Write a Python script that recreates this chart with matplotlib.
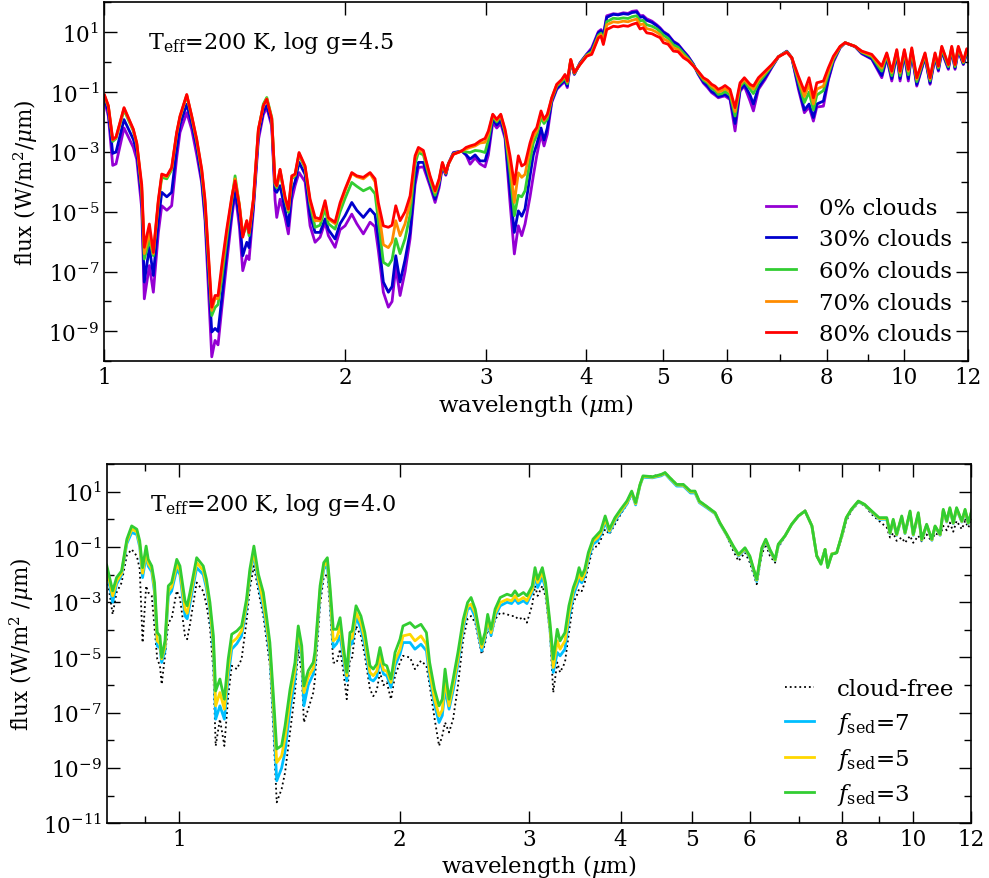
import numpy as np
import matplotlib
matplotlib.use("Agg")
import matplotlib.pyplot as plt
from matplotlib.ticker import FixedLocator, FuncFormatter, NullFormatter

plt.rcParams['font.family'] = ['DejaVu Serif']
plt.rcParams['mathtext.fontset'] = 'dejavuserif'
plt.rcParams['font.size'] = 15

# ---- top panel: partly cloudy models, Teff=200 K, log g=4.5 (log10 flux) ----
wl_top = [1.0014, 1.0124, 1.0253, 1.0351, 1.0592, 1.0879, 1.0987, 1.1146, 1.1228, 1.1393,
          1.1524, 1.1691, 1.1806, 1.1979, 1.2147, 1.2324, 1.2442, 1.2686, 1.2870, 1.3056,
          1.3246, 1.3372, 1.3633, 1.3763, 1.3882, 1.4031, 1.4234, 1.4441, 1.4579, 1.4760,
          1.4905, 1.5078, 1.5178, 1.5367, 1.5590, 1.5815, 1.5971, 1.6202, 1.6356, 1.6436,
          1.6593, 1.6834, 1.6994, 1.7161, 1.7325, 1.7525, 1.7831, 1.8090, 1.8352, 1.8618,
          1.8888, 1.9068, 1.9439, 1.9721, 2.0007, 2.0396, 2.0692, 2.1086, 2.1497, 2.1809,
          2.2017, 2.2336, 2.2660, 2.2903, 2.3148, 2.3436, 2.3776, 2.4121, 2.4471, 2.4704,
          2.5062, 2.5550, 2.5920, 2.6220, 2.6471, 2.6731, 2.6931, 2.7322, 2.7991, 2.8339,
          2.8668, 2.9083, 2.9500, 2.9928, 3.0213, 3.0597, 3.0951, 3.1310, 3.1699, 3.2159,
          3.2559, 3.2936, 3.3259, 3.3576, 3.4062, 3.4387, 3.4725, 3.5157, 3.5462, 3.5800,
          3.6256, 3.6781, 3.7314, 3.7670, 3.7919, 3.8293, 3.8692, 3.9332, 4.0096, 4.0678,
          4.1458, 4.1783, 4.2061, 4.2475, 4.3290, 4.3878, 4.4553, 4.5161, 4.5684, 4.6298,
          4.675, 4.715, 4.765, 4.838, 4.904, 4.951, 5.0, 5.067, 5.145, 5.215,
          5.296, 5.368, 5.451, 5.524, 5.609, 5.677, 5.744, 5.80, 5.855, 5.918,
          5.970, 6.056, 6.144, 6.233, 6.311, 6.415, 6.477, 6.571, 6.698, 6.829,
          6.960, 7.130, 7.233, 7.372, 7.500, 7.602, 7.697, 7.773, 7.922, 8.036,
          8.153, 8.312, 8.432, 8.678, 8.847, 9.105, 9.371, 9.506, 9.644, 9.784,
          9.877, 10.0, 10.115, 10.215, 10.363, 10.612, 10.767, 10.923, 11.028, 11.136,
          11.349, 11.46, 11.569, 11.679, 11.849, 11.966, 12.05]

clouds_0 = [-1.3, -1.8, -3.45, -3.4, -2.2, -2.85, -3.25, -4.9, -7.91, -6.8,
            -7.69, -5.7, -4.8, -4.95, -4.8, -3.2, -2.35, -1.69, -2.25, -3.1,
            -4.05, -5.3, -9.85, -9.3, -9.45, -8.24, -6.69, -5.2, -4.35, -5.5,
            -6.97, -6.47, -6.6, -4.95, -2.6, -1.75, -1.52, -2.15, -4.6, -5.19,
            -4.58, -5.2, -5.74, -4.6, -4.13, -3.69, -4.0, -5.47, -6.02, -5.85,
            -5.35, -5.8, -6.19, -5.6, -5.47, -5.08, -5.4, -5.74, -5.35, -5.5,
            -6.3, -7.69, -8.19, -8.0, -6.85, -7.8, -7.0, -5.9, -4.1, -3.52,
            -3.5, -4.15, -4.69, -4.2, -3.5, -3.78, -3.4, -3.02, -2.97, -3.1,
            -3.41, -3.2, -3.4, -3.5, -3.1, -2.02, -2.2, -2.05, -2.55, -4.7,
            -6.41, -5.47, -5.8, -5.41, -4.5, -3.8, -3.13, -2.4, -2.8, -2.4,
            -1.35, -0.91, -0.74, -0.65, -0.85, 0.03, -0.41, -0.02, 0.27, 0.48,
            1.02, 1.09, 0.92, 1.55, 1.62, 1.6, 1.65, 1.63, 1.7, 1.72,
            1.55, 1.56, 1.45, 1.37, 1.25, 1.15, 1.02, 0.92, 0.7, 0.6,
            0.38, 0.2, -0.07, -0.4, -0.7, -0.85, -1.02, -1.1, -1.19, -1.15,
            -1.13, -1.25, -2.3, -0.97, -0.8, -1.3, -1.63, -0.91, -0.58, -0.18,
            0.18, 0.37, 0.15, -0.9, -1.69, -1.5, -1.97, -1.5, -1.47, -0.6,
            0.0, 0.48, 0.65, 0.52, 0.28, 0.1, -0.52, 0.15, -0.63, 0.25,
            -0.63, 0.25, -0.63, 0.3, -0.8, 0.15, -0.74, 0.15, -0.3, 0.35,
            -0.24, 0.38, -0.24, 0.38, -0.08, 0.3, 0.2]

clouds_30 = [-1.2, -1.65, -3.05, -3.0, -1.92, -2.58, -3.0, -4.6, -7.35, -6.19,
             -7.13, -5.3, -4.35, -4.5, -4.35, -2.9, -2.1, -1.41, -2.05, -2.85,
             -3.95, -5.1, -9.02, -8.9, -9.0, -7.91, -6.35, -5.0, -4.3, -5.2,
             -6.47, -6.02, -6.2, -4.8, -2.45, -1.65, -1.45, -2.05, -4.3, -4.35,
             -4.13, -4.95, -5.47, -4.3, -4.0, -3.35, -3.75, -5.1, -5.69, -5.69,
             -5.24, -5.6, -5.91, -5.4, -5.13, -4.69, -4.95, -5.19, -4.91, -5.1,
             -5.9, -7.35, -7.69, -7.5, -6.47, -7.35, -6.6, -5.69, -3.9, -3.35,
             -3.35, -4.05, -4.58, -4.1, -3.45, -3.75, -3.4, -3.04, -2.97, -3.1,
             -3.24, -3.1, -3.3, -3.3, -2.9, -1.9, -2.1, -1.95, -2.45, -4.3,
             -5.69, -4.97, -5.15, -4.9, -3.8, -3.1, -2.75, -2.2, -2.6, -2.2,
             -1.3, -0.88, -0.7, -0.6, -0.8, 0.05, -0.4, -0.03, 0.26, 0.42,
             0.98, 1.05, 0.85, 1.5, 1.6, 1.58, 1.62, 1.6, 1.66, 1.68,
             1.5, 1.52, 1.4, 1.33, 1.22, 1.12, 1.0, 0.9, 0.68, 0.58,
             0.36, 0.18, -0.08, -0.38, -0.66, -0.8, -0.98, -1.05, -1.15, -1.12,
             -1.08, -1.2, -2.05, -0.92, -0.75, -1.1, -1.4, -0.85, -0.52, -0.16,
             0.18, 0.36, 0.15, -0.8, -1.6, -1.4, -1.85, -1.4, -1.3, -0.55,
             0.05, 0.49, 0.65, 0.52, 0.3, 0.12, -0.45, 0.18, -0.55, 0.28,
             -0.55, 0.28, -0.55, 0.33, -0.75, 0.18, -0.7, 0.18, -0.26, 0.38,
             -0.2, 0.41, -0.2, 0.41, -0.06, 0.33, 0.22]

clouds_60 = [-1.15, -1.5, -2.65, -2.55, -1.6, -2.3, -2.75, -4.3, -6.58, -5.95,
             -6.47, -4.7, -3.85, -3.9, -3.6, -2.4, -1.85, -1.12, -1.85, -2.65,
             -3.7, -4.8, -8.47, -8.2, -8.1, -7.24, -5.9, -4.6, -3.8, -4.8,
             -5.8, -5.4, -5.8, -4.65, -2.3, -1.4, -1.18, -1.85, -4.1, -4.2,
             -3.65, -4.6, -5.02, -3.9, -3.8, -3.1, -3.55, -4.75, -5.52, -5.45,
             -4.9, -5.4, -5.58, -5.0, -4.55, -4.02, -4.15, -4.3, -4.19, -4.4,
             -5.3, -6.69, -6.8, -6.6, -5.9, -6.4, -5.9, -5.1, -3.4, -3.02,
             -3.1, -3.95, -4.45, -4.0, -3.4, -3.72, -3.4, -3.06, -2.97, -3.0,
             -3.02, -2.95, -2.97, -3.02, -2.6, -1.8, -2.0, -1.8, -2.35, -3.7,
             -5.13, -4.45, -4.5, -4.3, -3.3, -2.7, -2.45, -1.85, -2.05, -1.9,
             -1.25, -0.8, -0.65, -0.52, -0.72, 0.07, -0.38, -0.05, 0.24, 0.35,
             0.9, 0.97, 0.72, 1.35, 1.47, 1.45, 1.48, 1.46, 1.52, 1.55,
             1.38, 1.4, 1.25, 1.2, 1.12, 1.02, 0.9, 0.8, 0.58, 0.5,
             0.3, 0.13, -0.1, -0.35, -0.6, -0.7, -0.88, -0.95, -1.08, -1.05,
             -0.98, -1.1, -1.8, -0.82, -0.65, -0.9, -1.05, -0.7, -0.42, -0.13,
             0.18, 0.35, 0.15, -0.65, -1.35, -1.0, -1.6, -1.1, -0.95, -0.4,
             0.1, 0.5, 0.65, 0.53, 0.33, 0.18, -0.3, 0.23, -0.45, 0.34,
             -0.45, 0.34, -0.42, 0.39, -0.65, 0.23, -0.62, 0.23, -0.2, 0.44,
             -0.15, 0.46, -0.15, 0.46, -0.02, 0.38, 0.26]

clouds_70 = [-1.12, -1.47, -2.6, -2.52, -1.54, -2.26, -2.72, -4.2, -6.4, -5.7,
             -6.4, -4.65, -3.78, -3.83, -3.55, -2.38, -1.83, -1.1, -1.82, -2.6,
             -3.62, -4.7, -8.3, -7.9, -7.9, -6.95, -5.7, -4.55, -3.9, -4.75,
             -5.75, -5.3, -5.7, -4.6, -2.25, -1.45, -1.22, -1.88, -4.05, -4.15,
             -3.6, -4.55, -4.95, -3.85, -3.77, -3.05, -3.5, -4.65, -5.3, -5.3,
             -4.7, -5.25, -5.4, -4.8, -4.3, -3.72, -3.83, -3.9, -3.72, -4.0,
             -4.9, -6.1, -6.2, -6.0, -5.3, -5.8, -5.4, -4.7, -3.2, -2.95,
             -3.0, -3.85, -4.35, -3.95, -3.38, -3.7, -3.4, -3.08, -2.97, -2.9,
             -2.85, -2.8, -2.7, -2.68, -2.4, -1.76, -1.95, -1.76, -2.3, -3.4,
             -4.69, -3.7, -3.85, -3.75, -2.9, -2.5, -2.3, -1.7, -1.95, -1.8,
             -1.2, -0.76, -0.6, -0.45, -0.66, 0.09, -0.36, -0.07, 0.22, 0.3,
             0.85, 0.92, 0.65, 1.25, 1.35, 1.33, 1.37, 1.35, 1.4, 1.44,
             1.25, 1.28, 1.12, 1.08, 1.0, 0.92, 0.78, 0.7, 0.48, 0.42,
             0.22, 0.09, -0.12, -0.32, -0.55, -0.65, -0.8, -0.88, -1.0, -0.95,
             -0.88, -1.0, -1.65, -0.75, -0.58, -0.8, -0.9, -0.6, -0.35, -0.1,
             0.18, 0.34, 0.15, -0.55, -1.15, -0.75, -1.4, -0.9, -0.8, -0.3,
             0.15, 0.52, 0.65, 0.53, 0.35, 0.22, -0.2, 0.28, -0.35, 0.39,
             -0.35, 0.39, -0.3, 0.44, -0.57, 0.28, -0.56, 0.28, -0.15, 0.5,
             -0.1, 0.5, -0.1, 0.5, 0.01, 0.42, 0.3]

clouds_80 = [-1.1, -1.45, -2.58, -2.5, -1.52, -2.24, -2.7, -4.1, -6.19, -5.41,
             -6.36, -4.6, -3.74, -3.8, -3.52, -2.35, -1.8, -1.08, -1.8, -2.58,
             -3.58, -4.6, -8.19, -7.8, -7.8, -6.8, -5.58, -4.5, -3.97, -4.8,
             -5.85, -5.3, -5.7, -4.58, -2.24, -1.45, -1.24, -1.9, -4.02, -4.13,
             -3.58, -4.5, -4.91, -3.8, -3.74, -3.02, -3.47, -4.58, -5.19, -5.24,
             -4.63, -5.2, -5.35, -4.7, -4.24, -3.69, -3.8, -3.85, -3.69, -3.9,
             -4.7, -5.47, -5.52, -5.45, -4.8, -5.3, -5.0, -4.47, -3.13, -2.85,
             -2.95, -3.8, -4.3, -3.9, -3.35, -3.69, -3.4, -3.08, -2.97, -2.85,
             -2.8, -2.75, -2.63, -2.55, -2.3, -1.74, -1.91, -1.74, -2.24, -3.13,
             -4.08, -3.13, -3.47, -3.4, -2.7, -2.35, -2.19, -1.63, -1.91, -1.74,
             -1.19, -0.74, -0.58, -0.41, -0.63, 0.09, -0.35, -0.08, 0.2, 0.26,
             0.81, 0.87, 0.59, 1.09, 1.2, 1.18, 1.22, 1.2, 1.26, 1.31,
             1.11, 1.15, 0.98, 0.95, 0.87, 0.82, 0.65, 0.6, 0.37, 0.35,
             0.15, 0.05, -0.13, -0.3, -0.52, -0.6, -0.74, -0.8, -0.91, -0.85,
             -0.78, -0.91, -1.52, -0.69, -0.52, -0.74, -0.8, -0.52, -0.3, -0.08,
             0.18, 0.33, 0.15, -0.47, -0.97, -0.52, -1.19, -0.69, -0.63, -0.19,
             0.2, 0.53, 0.65, 0.53, 0.37, 0.26, -0.13, 0.31, -0.3, 0.42,
             -0.3, 0.42, -0.24, 0.48, -0.52, 0.31, -0.52, 0.31, -0.13, 0.53,
             -0.08, 0.53, -0.08, 0.53, 0.03, 0.45, 0.33]

# ---- bottom panel: fsed models, Teff=200 K, log g=4.0 (log10 flux) ----
wl_bot = [0.797, 0.812, 0.822, 0.835, 0.849, 0.862, 0.876, 0.884, 0.892, 0.902,
          0.908, 0.918, 0.926, 0.934, 0.942, 0.947, 0.957, 0.967, 0.977, 0.993,
          1.003, 1.019, 1.026, 1.035, 1.057, 1.079, 1.090, 1.102, 1.114, 1.122,
          1.137, 1.153, 1.167, 1.180, 1.199, 1.217, 1.236, 1.249, 1.265, 1.283,
          1.303, 1.316, 1.330, 1.344, 1.359, 1.380, 1.395, 1.417, 1.439, 1.454,
          1.470, 1.480, 1.500, 1.524, 1.532, 1.557, 1.575, 1.593, 1.606, 1.623,
          1.640, 1.658, 1.675, 1.693, 1.710, 1.722, 1.743, 1.770, 1.792, 1.821,
          1.840, 1.860, 1.879, 1.900, 1.920, 1.945, 1.970, 2.001, 2.020, 2.065,
          2.097, 2.137, 2.174, 2.196, 2.230, 2.262, 2.285, 2.305, 2.334, 2.364,
          2.400, 2.440, 2.474, 2.501, 2.534, 2.586, 2.613, 2.635, 2.663, 2.697,
          2.741, 2.800, 2.840, 2.871, 2.900, 2.948, 2.980, 3.030, 3.057, 3.082,
          3.128, 3.160, 3.204, 3.237, 3.278, 3.307, 3.358, 3.400, 3.447, 3.480,
          3.510, 3.540, 3.573, 3.614, 3.667, 3.720, 3.756, 3.810, 3.860, 3.929,
          4.000, 4.079, 4.141, 4.192, 4.250, 4.290, 4.420, 4.540, 4.598, 4.670,
          4.769, 4.870, 4.980, 5.051, 5.120, 5.232, 5.380, 5.460, 5.580, 5.697,
          5.790, 5.909, 6.000, 6.130, 6.230, 6.307, 6.390, 6.494, 6.560, 6.700,
          6.842, 6.987, 7.135, 7.290, 7.402, 7.500, 7.597, 7.660, 7.760, 7.880,
          8.000, 8.120, 8.250, 8.433, 8.600, 8.795, 9.000, 9.220, 9.316, 9.410,
          9.510, 9.664, 9.764, 9.920, 10.02, 10.18, 10.29, 10.45, 10.62, 10.73,
          10.90, 11.01, 11.13, 11.24, 11.36, 11.48, 11.67, 11.79, 11.91, 12.05]

cloud_free = [-1.99, -3.44, -2.65, -2.3, -1.3, -1.09, -1.33, -1.8, -4.46, -2.41,
              -2.65, -2.77, -3.9, -5.06, -5.3, -5.97, -4.95, -3.74, -3.6, -2.59,
              -2.85, -4.22, -4.34, -3.8, -2.29, -2.6, -3.1, -3.9, -5.5, -8.2,
              -7.23, -8.2, -6.4, -5.3, -5.42, -5.06, -3.7, -2.5, -1.69, -2.6,
              -3.5, -4.34, -5.3, -7.5, -10.24, -9.76, -9.16, -7.71, -6.27, -4.7,
              -5.6, -7.35, -6.87, -6.27, -5.8, -3.1, -2.1, -1.99, -3.2, -5.18,
              -5.2, -4.7, -5.5, -6.51, -5.06, -5.0, -3.86, -4.22, -4.94, -6.15,
              -6.4, -6.2, -5.54, -6.0, -5.9, -6.51, -5.66, -5.18, -4.94, -5.0,
              -5.42, -5.12, -5.3, -6.0, -7.2, -8.2, -7.83, -7.35, -7.71, -7.23,
              -6.03, -4.34, -3.6, -3.5, -3.75, -4.88, -4.5, -3.92, -4.22, -3.62,
              -3.38, -3.44, -3.5, -3.5, -3.62, -3.55, -3.74, -3.1, -2.41, -2.77,
              -2.41, -2.8, -4.1, -6.27, -5.18, -5.54, -5.18, -4.1, -3.01, -2.8,
              -2.53, -2.6, -2.3, -1.69, -1.03, -0.97, -0.75, -0.36, -0.54, -0.18,
              0.18, 0.54, 0.9, 0.54, 1.26, 1.55, 1.56, 1.62, 1.69, 1.5,
              1.26, 1.26, 1.02, 1.02, 0.66, 0.48, 0.24, -0.12, -0.6, -1.15,
              -1.51, -1.2, -1.57, -2.35, -1.27, -0.9, -1.33, -1.57, -1.03, -0.6,
              -0.18, 0.12, 0.32, -0.24, -1.27, -1.57, -1.09, -1.7, -1.3, -1.21,
              -0.72, -0.06, 0.3, 0.6, 0.5, 0.18, -0.06, -0.3, -0.66, -0.5,
              -0.78, -0.66, -0.85, -0.6, -0.85, -0.6, -0.8, -0.55, -0.8, -0.5,
              -0.6, -0.24, -0.4, -0.12, -0.45, -0.06, -0.36, -0.06, -0.3, 0.0]

fsed_7 = [-1.82, -3.0, -2.35, -2.02, -0.88, -0.48, -0.55, -1.0, -2.11, -1.33,
          -1.7, -1.9, -2.65, -4.58, -4.65, -5.18, -4.75, -2.77, -2.6, -1.81,
          -2.0, -3.5, -3.6, -3.05, -1.75, -2.0, -2.5, -3.35, -4.75, -7.23,
          -6.75, -7.23, -5.7, -4.7, -4.5, -4.22, -3.2, -2.05, -1.27, -2.3,
          -3.2, -3.95, -4.9, -6.9, -9.46, -9.0, -8.4, -6.87, -5.78, -4.16,
          -5.0, -6.75, -6.0, -5.6, -5.2, -2.7, -1.8, -1.69, -2.75, -4.64,
          -4.5, -4.22, -5.0, -5.85, -4.55, -4.5, -3.55, -3.95, -4.55, -5.78,
          -5.85, -5.7, -5.12, -5.6, -5.66, -6.08, -5.3, -4.88, -4.46, -4.46,
          -4.7, -4.52, -4.76, -5.7, -6.7, -7.35, -7.1, -6.15, -6.87, -6.2,
          -5.24, -3.95, -3.25, -3.2, -3.55, -4.76, -4.3, -3.74, -4.2, -3.5,
          -3.13, -3.0, -3.05, -2.89, -3.05, -2.95, -3.05, -2.65, -2.05, -2.47,
          -2.11, -2.5, -4.0, -5.54, -4.82, -4.94, -4.7, -3.6, -2.77, -2.45,
          -2.17, -2.3, -2.05, -1.45, -0.9, -0.78, -0.58, -0.12, -0.48, -0.06,
          0.24, 0.55, 0.94, 0.52, 1.22, 1.52, 1.5, 1.57, 1.65, 1.45,
          1.2, 1.2, 0.95, 0.95, 0.6, 0.43, 0.2, -0.15, -0.58, -1.03,
          -1.33, -1.09, -1.4, -2.25, -1.1, -0.78, -1.15, -1.5, -0.95, -0.6,
          -0.18, 0.12, 0.3, -0.24, -1.33, -1.58, -1.09, -1.7, -1.25, -1.21,
          -0.64, 0.03, 0.34, 0.63, 0.52, 0.26, 0.0, 0.0, -0.52, -0.06,
          -0.58, 0.06, -0.52, 0.24, -0.58, 0.18, -0.76, -0.22, -0.76, -0.28,
          -0.58, 0.3, -0.1, 0.36, -0.16, 0.36, -0.1, 0.3, -0.16, 0.3]

fsed_5 = [-1.75, -2.77, -2.25, -1.95, -0.8, -0.36, -0.45, -0.9, -1.95, -1.15,
          -1.6, -1.8, -2.5, -4.4, -4.5, -5.05, -4.6, -2.6, -2.45, -1.63,
          -1.85, -3.25, -3.4, -2.85, -1.57, -1.85, -2.35, -3.2, -4.5, -6.75,
          -6.27, -6.87, -5.4, -4.46, -4.3, -4.04, -3.05, -1.95, -1.15, -2.15,
          -3.0, -3.75, -4.7, -6.6, -8.8, -8.56, -7.9, -6.5, -5.45, -3.98,
          -4.8, -6.27, -5.7, -5.4, -5.0, -2.55, -1.7, -1.5, -2.6, -4.4,
          -4.3, -3.86, -4.8, -5.66, -4.35, -4.3, -3.37, -3.75, -4.35, -5.54,
          -5.66, -5.5, -4.94, -5.45, -5.5, -5.9, -5.1, -4.7, -4.22, -4.16,
          -4.4, -4.22, -4.52, -5.5, -6.5, -7.11, -6.9, -5.8, -6.75, -6.0,
          -5.06, -3.8, -3.15, -3.07, -3.4, -4.64, -4.2, -3.62, -4.1, -3.4,
          -3.01, -2.9, -2.95, -2.77, -2.95, -2.83, -2.95, -2.55, -1.93, -2.29,
          -1.93, -2.4, -3.9, -5.36, -4.4, -4.7, -4.4, -3.4, -2.59, -2.3,
          -1.99, -2.2, -1.95, -1.33, -0.8, -0.66, -0.5, 0.0, -0.42, 0.0,
          0.3, 0.6, 0.98, 0.56, 1.24, 1.55, 1.52, 1.6, 1.67, 1.48,
          1.24, 1.23, 0.99, 0.99, 0.63, 0.46, 0.22, -0.13, -0.56, -1.0,
          -1.3, -1.06, -1.36, -2.2, -1.06, -0.75, -1.12, -1.48, -0.92, -0.6,
          -0.18, 0.12, 0.3, -0.24, -1.33, -1.6, -1.09, -1.72, -1.25, -1.21,
          -0.62, 0.05, 0.35, 0.65, 0.53, 0.28, 0.03, 0.03, -0.5, -0.03,
          -0.56, 0.09, -0.5, 0.27, -0.56, 0.21, -0.74, -0.2, -0.74, -0.26,
          -0.56, 0.33, -0.08, 0.39, -0.14, 0.39, -0.08, 0.33, -0.14, 0.33]

fsed_3 = [-1.66, -2.59, -2.11, -1.87, -0.72, -0.24, -0.36, -0.78, -1.75, -0.97,
          -1.45, -1.69, -2.29, -4.1, -4.22, -5.0, -4.4, -2.41, -2.29, -1.45,
          -1.69, -2.95, -3.13, -2.65, -1.39, -1.69, -2.17, -3.01, -4.22, -6.21,
          -5.78, -6.51, -5.06, -4.16, -4.04, -3.86, -2.89, -1.81, -0.97, -1.99,
          -2.65, -3.5, -4.46, -6.27, -8.31, -8.19, -7.47, -6.15, -5.18, -3.86,
          -4.58, -6.03, -5.48, -5.18, -4.8, -2.41, -1.57, -1.39, -2.41, -3.98,
          -3.98, -3.56, -4.58, -5.54, -4.1, -4.04, -3.13, -3.5, -4.1, -5.3,
          -5.42, -5.24, -4.64, -5.24, -5.3, -5.78, -4.82, -4.34, -3.86, -3.74,
          -3.92, -3.8, -4.1, -5.18, -6.15, -6.75, -6.51, -5.42, -6.51, -5.78,
          -4.82, -3.62, -3.01, -2.83, -3.25, -4.52, -4.1, -3.44, -3.98, -3.25,
          -2.83, -2.71, -2.77, -2.59, -2.77, -2.65, -2.77, -2.41, -1.75, -2.17,
          -1.75, -2.29, -3.74, -5.06, -3.98, -4.4, -4.1, -3.13, -2.47, -2.17,
          -1.75, -2.05, -1.81, -1.2, -0.72, -0.54, -0.42, 0.12, -0.36, 0.06,
          0.36, 0.66, 1.02, 0.6, 1.26, 1.57, 1.54, 1.62, 1.69, 1.5,
          1.26, 1.26, 1.02, 1.02, 0.66, 0.48, 0.24, -0.12, -0.54, -0.97,
          -1.27, -1.03, -1.33, -2.17, -1.03, -0.72, -1.09, -1.45, -0.9, -0.6,
          -0.18, 0.12, 0.3, -0.24, -1.33, -1.63, -1.09, -1.75, -1.27, -1.21,
          -0.6, 0.06, 0.36, 0.66, 0.54, 0.3, 0.06, 0.06, -0.48, 0.0,
          -0.54, 0.12, -0.48, 0.3, -0.54, 0.24, -0.72, -0.18, -0.72, -0.24,
          -0.54, 0.36, -0.06, 0.42, -0.12, 0.42, -0.06, 0.36, -0.12, 0.36]

top_series = [
    (clouds_0, '#9400D3', '0% clouds'),
    (clouds_30, '#0000CD', '30% clouds'),
    (clouds_60, '#32CD32', '60% clouds'),
    (clouds_70, '#FF8C00', '70% clouds'),
    (clouds_80, '#FF0000', '80% clouds'),
]

bot_series = [
    (fsed_7, '#00BFFF', r'$f_{\rm sed}$=7'),
    (fsed_5, '#FFD700', r'$f_{\rm sed}$=5'),
    (fsed_3, '#32CD32', r'$f_{\rm sed}$=3'),
]


def style_axes(ax, xmin, ymin, ymax, xminor):
    ax.set_xscale('log')
    ax.set_yscale('log')
    ax.set_xlim(xmin, 12)
    ax.set_ylim(10.0 ** ymin, 10.0 ** ymax)

    ax.xaxis.set_major_locator(FixedLocator([1, 2, 3, 4, 5, 6, 8, 10, 12]))
    ax.xaxis.set_major_formatter(FuncFormatter(lambda v, p: '%g' % v))
    ax.xaxis.set_minor_locator(FixedLocator(xminor))
    ax.xaxis.set_minor_formatter(NullFormatter())

    odd = [10.0 ** k for k in range(ymin, ymax + 1) if k % 2 != 0]
    even = [10.0 ** k for k in range(ymin, ymax + 1) if k % 2 == 0]
    ax.yaxis.set_major_locator(FixedLocator(odd))
    ax.yaxis.set_minor_locator(FixedLocator(even))
    ax.yaxis.set_minor_formatter(NullFormatter())

    ax.tick_params(which='both', direction='in', top=True, right=True, labelsize=15.5)
    ax.tick_params(which='major', length=9, width=1)
    ax.tick_params(which='minor', length=5, width=1)
    for s in ax.spines.values():
        s.set_linewidth(1.2)


fig = plt.figure(figsize=(9.89, 8.79), dpi=100)

# Top panel
ax1 = fig.add_axes([0.1052, 0.5878, 0.8733, 0.4084])
wl = np.array(wl_top)
for vals, col, lab in top_series:
    ax1.plot(wl, 10.0 ** np.array(vals), color=col, lw=2.0, label=lab)
style_axes(ax1, 1.0, -10, 2, [7, 9])
ax1.set_xlabel(r'wavelength ($\mu$m)', fontsize=16.5)
ax1.set_ylabel(r'flux (W/m$^2$/$\mu$m)', fontsize=15.5)
ax1.xaxis.set_label_coords(0.5, -0.083)
ax1.yaxis.set_label_coords(-0.074, 0.5)
ax1.text(0.051, 0.889, r'$\mathregular{T_{eff}}$=200 K, log g=4.5',
         transform=ax1.transAxes, ha='left', va='center', fontsize=16)
ax1.legend(loc='lower right', frameon=False, fontsize=16.5, handlelength=1.3,
           handletextpad=1.0, labelspacing=0.42, borderaxespad=0.3)

# Bottom panel
ax2 = fig.add_axes([0.1079, 0.0622, 0.8736, 0.4088])
wl = np.array(wl_bot)
ax2.plot(wl, 10.0 ** np.array(cloud_free), color='black', lw=1.3, ls=':',
         label='cloud-free')
for vals, col, lab in bot_series:
    ax2.plot(wl, 10.0 ** np.array(vals), color=col, lw=2.0, label=lab)
style_axes(ax2, 0.797, -11, 2, [0.9, 7, 9])
ax2.set_xlabel(r'wavelength ($\mu$m)', fontsize=16.5)
ax2.set_ylabel(r'flux (W/m$^2$ /$\mu$m)', fontsize=15.5)
ax2.xaxis.set_label_coords(0.5, -0.08)
ax2.yaxis.set_label_coords(-0.082, 0.5)
ax2.text(0.05, 0.889, r'$\mathregular{T_{eff}}$=200 K, log g=4.0',
         transform=ax2.transAxes, ha='left', va='center', fontsize=16)
ax2.legend(loc='lower right', frameon=False, fontsize=16.5, handlelength=1.3,
           handletextpad=1.0, labelspacing=0.42, borderaxespad=0.3)

fig.savefig('out.png', dpi=100)
